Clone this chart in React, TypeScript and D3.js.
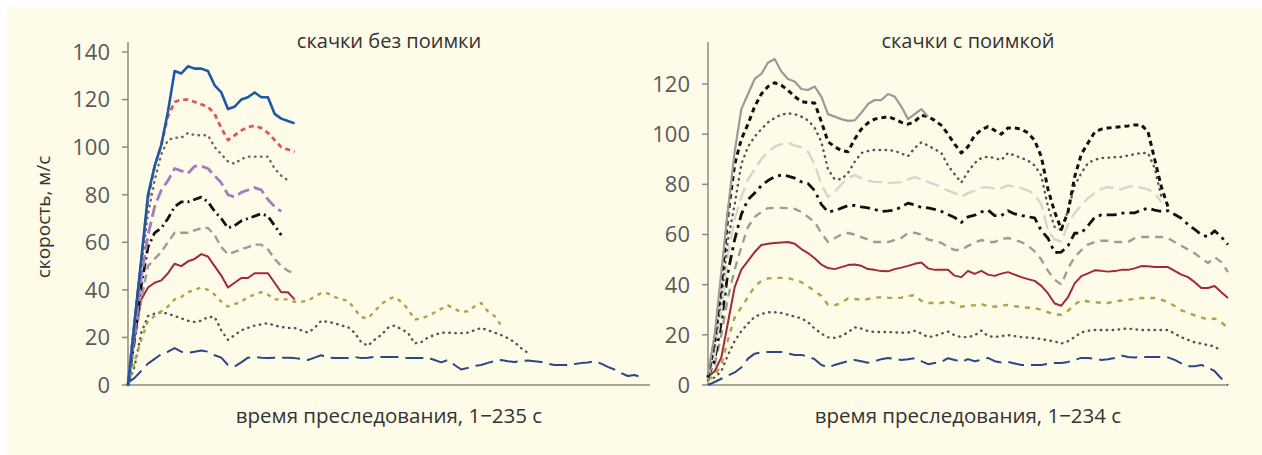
import React, { useEffect, useRef } from "react";
import * as d3 from "d3";

// samples are every 3 s of the chase
const STEP = 3;

// left panel: "скачки без поимки", 1–235 s
const blueL = [0, 27, 53, 80, 92, 101, 115, 132, 131, 134, 133, 133, 132, 126, 123, 116, 117, 120, 121, 123, 121, 121, 114, 112, 111, 110];
const redL = [0, 27, 53, 78, 92, 101, 113, 119, 120, 120, 119, 118, 117, 114, 108, 103, 105, 107, 108.5, 109, 108, 106, 103, 100, 99, 98];
const grayDotL = [0, 25, 50, 72, 86, 97, 103, 104, 104, 106, 105, 105, 105, 100, 97, 94, 93, 95, 96, 96, 96, 96, 91, 88, 86];
const purpleL = [0, 22, 45, 63, 75, 82, 86, 91, 90, 89, 92, 92, 91, 88, 85, 80, 79, 81, 82, 83, 82, 78, 75, 73];
const blackL = [0, 20, 42, 58, 64, 66, 70, 75, 77, 77, 78, 79, 77, 73, 70, 66, 67, 69, 70, 71, 72, 71, 67, 63];
const grayDashL = [0, 18, 36, 50, 53, 56, 60, 64, 64, 64, 65, 66, 66, 63, 58, 55, 56, 57, 58, 59, 59, 57, 53, 50, 48, 47];
const darkRedL = [0, 20, 36, 41, 43, 44, 47, 51, 50, 52, 53, 55, 54, 50, 46, 41, 43, 45, 45, 47, 47, 47, 43, 39, 39, 36];
const oliveL = [0, 10, 19, 27, 29, 31, 33, 36, 37, 39, 40, 41, 40, 38, 35, 33, 34, 35, 37, 38, 39, 38, 36, 36, 36, 35, 35, 35.5, 37, 38.7, 38.5, 37, 36, 35.5, 32, 28.5, 28, 31, 34, 36, 37, 35, 32, 27.5, 28, 29, 30.5, 32, 33.5, 32, 30.7, 31, 33, 34.5, 31, 29, 25];
const dotL = [0, 8, 22, 29, 30, 30.5, 30, 29, 28, 27, 26.5, 27, 28.6, 28.6, 23, 19, 21, 23, 24, 25, 25.5, 26, 25, 24.4, 24, 24, 23, 22, 24, 27, 26.5, 26, 25, 24.4, 22, 18, 16.5, 19, 21, 24, 25, 23.5, 22, 17.5, 18, 20, 21, 22, 22, 21.8, 21.8, 22, 23, 24, 23, 22, 21, 19.7, 18, 15.5, 13.5];
const navyL = [1, 3, 6, 9, 11, 13, 14, 15.5, 14, 13.5, 14, 14.5, 14, 12.5, 11.5, 8.4, 7.8, 9.5, 11.5, 11.8, 11.5, 11.3, 11.5, 11.5, 11.5, 11.3, 11, 10.5, 11.5, 12.5, 11.5, 11.3, 11.3, 11.3, 11.8, 11.3, 11.5, 11.8, 11.8, 11.8, 11.8, 11.8, 11.3, 11.3, 11.3, 11.5, 10.5, 9.5, 10.5, 8.4, 6.5, 7.2, 8, 8.4, 9.3, 10, 10.5, 10, 9.7, 10, 10.3, 10, 9.7, 9, 8.4, 8.4, 8.4, 8.8, 9.2, 9.5, 10, 9, 7.6, 6.5, 5, 3.8, 4.2, 3.4];

// right panel: "скачки с поимкой", 1–234 s
const graySolidR = [4, 20, 45, 70, 93, 110, 116, 122, 124, 128.5, 130, 125, 122, 121, 118, 117.6, 119, 115, 108, 107, 106, 105.3, 105.5, 108.5, 112, 113.6, 113.6, 116, 115, 111, 106, 108, 110, 107];
const blackDashR = [3, 18, 40, 68, 88, 98, 104, 111, 116, 119, 120.5, 119.5, 117.5, 115, 113, 112.6, 112.4, 105, 97, 95, 93.5, 93, 98, 102, 104.5, 106, 106.5, 107, 106, 104.7, 104, 105, 107.5, 107, 105.5, 103.5, 100, 96, 92.5, 95, 99.5, 101.7, 103, 101.5, 100, 102.5, 102.5, 102, 100.5, 97.5, 91, 78, 69, 62, 69, 83, 92, 96.5, 100.8, 102, 102.5, 102.7, 103, 103.3, 103.7, 103.7, 101, 90, 79, 71];
const grayDotR = [4, 15, 35, 58, 72, 88, 95, 99, 102, 104.7, 106.5, 107.8, 108.3, 108, 107, 105.5, 102.5, 97, 86, 82, 82, 84.5, 89, 92.5, 93.3, 93.7, 93.7, 93.7, 93.3, 92.3, 91.2, 94.5, 96.7, 95.5, 94, 92.5, 87.5, 84, 80.7, 85, 88.5, 90.5, 91, 90.5, 89.7, 92.5, 91.5, 90.5, 89.5, 87.5, 83.5, 71, 63, 61.8, 69.5, 79.5, 84.5, 88.5, 89.8, 90.5, 90.6, 90.8, 90.9, 91.5, 92, 92.5, 92.5, 86.5, 75];
const lightGrayR = [3, 12, 30, 52, 66, 75, 82, 86, 90, 93, 95, 96, 96.5, 95.5, 94.7, 93, 88, 80, 75, 77, 80, 82.5, 83.7, 82.5, 81.5, 81, 80.9, 80.6, 80.7, 80.9, 82, 82.9, 82, 81, 80, 79, 77.5, 76.5, 75, 76.5, 77.5, 78.7, 78.9, 78.2, 78.5, 79.6, 79, 78.5, 77.5, 76, 72, 61.5, 58, 57.2, 64, 68.6, 71.5, 74.5, 76.5, 78.2, 78.9, 78.3, 78, 79, 79.5, 78.6, 78, 76.4, 73];
const dashDotR = [3, 10, 25, 45, 58, 68, 74, 76.5, 79.5, 81.5, 83, 83.7, 83.3, 82.5, 81, 80.3, 77.5, 72, 69, 69.5, 70.5, 71.5, 71.6, 71, 70.6, 70, 69.2, 69.4, 69.7, 71, 72.5, 71.8, 70.8, 70.6, 70, 69.2, 68, 66.8, 64.8, 67, 67.7, 69, 69.7, 67.5, 67.5, 69.5, 68.2, 67.6, 67, 66.6, 61.5, 58.5, 52.8, 53, 55.5, 60.5, 60.6, 63.5, 66.8, 67.8, 67.8, 67.8, 68.5, 68.6, 68.6, 69.8, 70.5, 69.7, 69.2, 69.5, 68, 66.5, 64, 62, 60, 59, 61.5, 59, 56];
const grayDashR = [3, 8, 20, 35, 46, 55, 63, 67, 69, 70.5, 70.6, 70.6, 70.5, 70.2, 69, 67, 65, 60.6, 57, 58.5, 60, 60.6, 60, 59, 58, 57, 57, 57, 57.8, 58.6, 60.5, 60.7, 60, 58, 57.5, 56.7, 55, 53.8, 53.8, 55.5, 56.7, 57.8, 57, 57, 58.2, 58.6, 57.8, 57, 55.5, 53.3, 50, 45.5, 42, 40, 46.5, 51, 53.8, 56, 57, 57.5, 57.5, 57, 57, 57, 58.5, 59, 59, 59, 59, 58.5, 57, 55.5, 54, 52.5, 50.5, 48.6, 51, 49, 45];
const darkRedR = [3.2, 5.5, 11, 25, 39, 46, 49.5, 53, 55.8, 56.3, 56.6, 56.8, 57, 56.3, 54.2, 52.6, 50.5, 48, 46.6, 46.2, 47, 47.8, 48, 47.5, 46.2, 45.9, 45.4, 45.3, 46.2, 46.8, 47.5, 48.3, 48.8, 46.5, 45.9, 45.9, 45.9, 43.6, 43, 45.5, 44.3, 45.5, 44, 43.5, 44.4, 45, 44, 43, 42.2, 41.5, 39.5, 36.5, 32.5, 31.6, 35, 40.5, 43.4, 44.5, 45.7, 45.5, 45.2, 45.4, 45.9, 45.9, 46.5, 47.4, 47.3, 47, 47, 47, 45.5, 44, 43, 41, 38.7, 38.7, 39.5, 37, 34.7];
const oliveR = [2, 4, 8, 18, 27, 31, 35, 39.3, 41.5, 42.5, 42.7, 42.7, 42.7, 41.8, 41, 39.3, 37.5, 35.5, 32, 31.8, 32.7, 34.5, 34.3, 34, 34.3, 34.8, 35, 34.8, 34.7, 34.8, 35.5, 35.8, 33.5, 32.7, 32.7, 32.7, 33.5, 32.5, 31.2, 31.7, 31.8, 32.3, 31.3, 31.2, 31.7, 31.9, 31.4, 31.1, 30.8, 30.7, 30, 29, 28.2, 28, 29.6, 32, 33.9, 33.3, 33, 32.8, 32.7, 33.3, 33.7, 34, 34.3, 34.7, 34.7, 34.7, 34, 33, 31.5, 29.8, 28.8, 27.8, 27, 26, 26.5, 25, 22.7];
const dotR = [2, 3, 5.5, 12, 17.5, 21.5, 24.5, 27.2, 28.3, 29, 29, 28.7, 28, 27.3, 26.6, 25, 22.5, 20.5, 19, 18.8, 19.5, 21, 23, 22.5, 21.5, 21.1, 21.1, 21.1, 21, 20.8, 20.9, 21.6, 20.5, 19.1, 19.5, 20.5, 21.3, 19.8, 19.1, 19.1, 19.8, 21.7, 19.5, 19.1, 19.5, 19.9, 19.5, 19.1, 18.9, 18.7, 18.3, 17.8, 17.4, 16.5, 17.5, 19.1, 21, 21.6, 21.9, 21.9, 21.9, 21.9, 22.3, 22.5, 22.2, 21.9, 21.9, 21.9, 21.9, 21.9, 20.5, 19, 18, 17, 16.5, 15.9, 15.4, 13.5];
const navyR = [0, 1.2, 2.5, 3.8, 5, 7, 10.5, 12.5, 13, 13.2, 13.2, 13.2, 12.6, 12, 12, 11.3, 10.3, 8, 7, 8, 8.8, 9.5, 10, 9.5, 8.9, 9.5, 10.3, 10.8, 10.4, 10, 10.3, 10.7, 9.5, 8.3, 8.8, 9.2, 10.7, 10, 9.2, 10.3, 9.5, 10, 10.8, 9.5, 9, 9.2, 8.6, 8, 8, 8, 8, 8.4, 8.8, 8.8, 9.2, 10, 10.8, 10.8, 10.4, 10, 10.3, 10.8, 11.8, 11.2, 11, 11.2, 11.2, 11.2, 11.2, 11, 10, 8.6, 7.5, 7.5, 8, 7, 5.5, 2.6, 0];

const leftTicks = [0, 20, 40, 60, 80, 100, 120, 140];
const rightTicks = [0, 20, 40, 60, 80, 100, 120];

const panels = [
  {
    title: "скачки без поимки",
    xLabel: "время преследования, 1−235 с",
    x0: 128, x1: 650, tMax: 235, yMax: 140, yMaxPx: 52, ticks: leftTicks,
    series: [
      { values: navyL, color: "#2c4786", width: 2, dash: "18,7" },
      { values: dotL, color: "#555", width: 2.4, dash: "0.5,5.5" },
      { values: oliveL, color: "#aaa44a", width: 2.4, dash: "4,5" },
      { values: darkRedL, color: "#a2283b", width: 2, dash: null },
      { values: grayDashL, color: "#9c9c98", width: 2.4, dash: "8,5" },
      { values: blackL, color: "#111", width: 2.8, dash: "9,4,2,4" },
      { values: purpleL, color: "#a57ac2", width: 2.8, dash: "12,5" },
      { values: grayDotL, color: "#666", width: 2.4, dash: "0.5,5.5" },
      { values: redL, color: "#e0555c", width: 2.8, dash: "5,4" },
      { values: blueL, color: "#1b59a5", width: 2.6, dash: null },
    ],
  },
  {
    title: "скачки с поимкой",
    xLabel: "время преследования, 1−234 с",
    x0: 708, x1: 1228, tMax: 234, yMax: 120, yMaxPx: 84, ticks: rightTicks,
    series: [
      { values: navyR, color: "#2c4786", width: 2, dash: "16,7" },
      { values: dotR, color: "#555", width: 2.4, dash: "0.5,5.5" },
      { values: oliveR, color: "#aaa44a", width: 2.4, dash: "5,6" },
      { values: darkRedR, color: "#a2283b", width: 2, dash: null },
      { values: grayDashR, color: "#9c9c98", width: 2.4, dash: "8,6" },
      { values: dashDotR, color: "#111", width: 2.8, dash: "10,5,3,5" },
      { values: lightGrayR, color: "#d8d6cc", width: 2.4, dash: "14,6" },
      { values: grayDotR, color: "#555", width: 2.4, dash: "0.5,5.5" },
      { values: blackDashR, color: "#111", width: 3, dash: "5,4" },
      { values: graySolidR, color: "#9a9a9a", width: 2.2, dash: null },
    ],
  },
];

const FONT = "'Open Sans', 'Noto Sans', sans-serif";
const BASE_Y = 385;
const AXIS_TOP = 42;

const App = () => {
  const ref = useRef<SVGSVGElement>(null);

  useEffect(() => {
    const svg = d3.select(ref.current);
    svg.selectAll("*").remove();

    svg.append("rect")
      .attr("x", 7).attr("y", 7)
      .attr("width", 1255).attr("height", 448)
      .attr("fill", "#fefbe9");

    panels.forEach((p) => {
      const x = d3.scaleLinear().domain([0, p.tMax]).range([p.x0, p.x1]);
      const y = d3.scaleLinear().domain([0, p.yMax]).range([BASE_Y, p.yMaxPx]);
      const g = svg.append("g");

      // axes
      g.append("line")
        .attr("x1", p.x0).attr("x2", p.x0)
        .attr("y1", AXIS_TOP).attr("y2", BASE_Y)
        .attr("stroke", "#8c8a80").attr("stroke-width", 1.5);
      g.append("line")
        .attr("x1", p.x0).attr("x2", p.x1)
        .attr("y1", BASE_Y).attr("y2", BASE_Y)
        .attr("stroke", "#8c8a80").attr("stroke-width", 1.5);

      g.selectAll(".tick")
        .data(p.ticks)
        .join("line")
        .attr("x1", p.x0 - 6).attr("x2", p.x0)
        .attr("y1", (d) => y(d)).attr("y2", (d) => y(d))
        .attr("stroke", "#8c8a80").attr("stroke-width", 1.5);

      g.selectAll(".tick-label")
        .data(p.ticks)
        .join("text")
        .attr("x", p.x0 - 18)
        .attr("y", (d) => y(d))
        .attr("dy", "0.36em")
        .attr("text-anchor", "end")
        .attr("font-family", FONT)
        .attr("font-size", 22)
        .attr("fill", "#5a5a5a")
        .text((d) => d);

      const mid = (p.x0 + p.x1) / 2;
      g.append("text")
        .attr("x", mid).attr("y", 48)
        .attr("text-anchor", "middle")
        .attr("font-family", FONT).attr("font-size", 20)
        .attr("fill", "#333")
        .text(p.title);
      g.append("text")
        .attr("x", mid).attr("y", 423)
        .attr("text-anchor", "middle")
        .attr("font-family", FONT).attr("font-size", 20.5)
        .attr("fill", "#333")
        .text(p.xLabel);

      const line = d3.line<number>()
        .x((_, i) => x(i * STEP))
        .y((d) => y(d));

      g.selectAll(".series")
        .data(p.series)
        .join("path")
        .attr("d", (s) => line(s.values))
        .attr("fill", "none")
        .attr("stroke", (s) => s.color)
        .attr("stroke-width", (s) => s.width)
        .attr("stroke-linecap", (s) => (s.dash && s.dash.startsWith("0.5") ? "round" : "butt"))
        .attr("stroke-linejoin", "round")
        .attr("stroke-dasharray", (s) => s.dash);
    });

    svg.append("text")
      .attr("transform", "translate(50,217) rotate(-90)")
      .attr("text-anchor", "middle")
      .attr("font-family", FONT).attr("font-size", 19)
      .attr("fill", "#333")
      .text("скорость, м/с");
  }, []);

  return (
    <svg
      ref={ref}
      width={1262}
      height={455}
      style={{ position: "absolute", left: 0, top: 0 }}
    />
  );
};

export default App;
